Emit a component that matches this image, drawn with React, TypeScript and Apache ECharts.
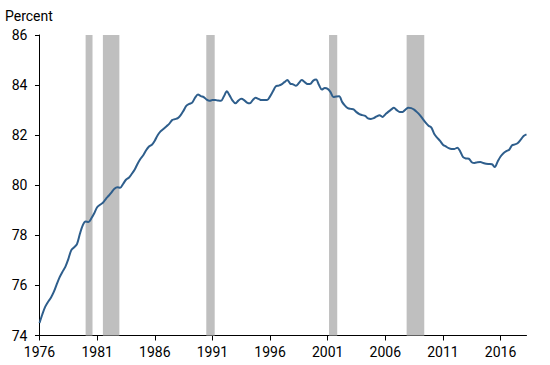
import React, { useEffect, useRef } from "react";
import * as echarts from "echarts";

const startYear = 1976;
const values = [
  74.50, 74.85, 75.15, 75.35, 75.52, 75.75, 76.05, 76.33, 76.55, 76.75,
  77.05, 77.40, 77.52, 77.65, 78.05, 78.40, 78.55, 78.53, 78.68, 78.88,
  79.12, 79.22, 79.30, 79.45, 79.58, 79.72, 79.86, 79.92, 79.90, 80.05,
  80.22, 80.30, 80.45, 80.62, 80.85, 81.05, 81.20, 81.40, 81.55, 81.62,
  81.78, 82.00, 82.15, 82.25, 82.35, 82.45, 82.60, 82.64, 82.68, 82.80,
  82.98, 83.18, 83.25, 83.30, 83.50, 83.62, 83.56, 83.52, 83.42, 83.37,
  83.40, 83.40, 83.38, 83.37, 83.55, 83.75, 83.58, 83.38, 83.27, 83.38,
  83.45, 83.40, 83.30, 83.27, 83.40, 83.49, 83.45, 83.40, 83.40, 83.40,
  83.55, 83.75, 83.95, 83.98, 84.03, 84.12, 84.20, 84.06, 84.03, 83.97,
  84.08, 84.20, 84.12, 84.04, 84.05, 84.18, 84.22, 84.00, 83.82, 83.88,
  83.85, 83.72, 83.52, 83.54, 83.55, 83.33, 83.18, 83.08, 83.05, 83.03,
  82.92, 82.84, 82.80, 82.77, 82.67, 82.65, 82.68, 82.75, 82.80, 82.73,
  82.83, 82.93, 83.02, 83.09, 83.00, 82.93, 82.93, 83.02, 83.09, 83.08,
  83.02, 82.92, 82.80, 82.65, 82.50, 82.38, 82.30, 82.05, 81.90, 81.77,
  81.62, 81.55, 81.48, 81.45, 81.45, 81.50, 81.35, 81.12, 81.07, 81.06,
  80.92, 80.89, 80.92, 80.93, 80.89, 80.86, 80.85, 80.84, 80.73, 80.95,
  81.15, 81.28, 81.36, 81.42, 81.60, 81.63, 81.69, 81.82, 81.97, 82.03,
];
const recessions: [number, number][] = [
  [1980.0, 1980.6],
  [1981.5, 1982.93],
  [1990.47, 1991.2],
  [2001.12, 2001.83],
  [2007.85, 2009.38],
];
const xTicks = [1976, 1981, 1986, 1991, 1996, 2001, 2006, 2011, 2016];
const yTicks = [74, 76, 78, 80, 82, 84, 86];

const FONT = "Roboto";

export default function App() {
  const ref = useRef<HTMLDivElement>(null);
  useEffect(() => {
    if (!ref.current) return;
    const chart = echarts.init(ref.current, undefined, { renderer: "svg" });
    const data = values.map((v, i) => [startYear + i / 4, v]);
    chart.setOption({
      animation: false,
      grid: { left: 39.5, right: 23.5, top: 35, bottom: 29.5, containLabel: false },
      graphic: [
        {
          type: "text",
          left: 5,
          top: 9,
          style: { text: "Percent", font: `14px ${FONT}`, fill: "#000" },
        },
      ],
      xAxis: {
        type: "value",
        min: 1976,
        max: 2018.25,
        splitLine: { show: false },
        axisLine: { show: true, lineStyle: { color: "#000", width: 1 } },
        axisTick: {
          show: true,
          length: 5,
          customValues: xTicks,
          lineStyle: { color: "#000" },
        },
        axisLabel: {
          customValues: xTicks,
          margin: 9,
          color: "#000",
          fontFamily: FONT,
          fontSize: 14,
          formatter: (v: number) => String(Math.round(v)),
        },
      },
      yAxis: {
        type: "value",
        min: 74,
        max: 86,
        interval: 2,
        splitLine: { show: false },
        axisLine: { show: true, lineStyle: { color: "#000", width: 1 } },
        axisTick: { show: true, length: 4.5, lineStyle: { color: "#000" } },
        axisLabel: {
          margin: 12,
          color: "#000",
          fontFamily: FONT,
          fontSize: 14,
          formatter: (v: number) => (yTicks.includes(v) ? String(v) : ""),
        },
      },
      series: [
        {
          type: "line",
          data,
          showSymbol: false,
          symbol: "none",
          smooth: 0.3,
          lineStyle: { color: "#2e5e8c", width: 2 },
          z: 3,
          markArea: {
            silent: true,
            itemStyle: { color: "#bfbfbf" },
            data: recessions.map(([a, b]) => [{ xAxis: a }, { xAxis: b }]),
          },
        },
      ],
    });
    return () => chart.dispose();
  }, []);
  return (
    <div
      ref={ref}
      style={{ position: "absolute", left: 0, top: 0, width: 550, height: 365 }}
    />
  );
}
